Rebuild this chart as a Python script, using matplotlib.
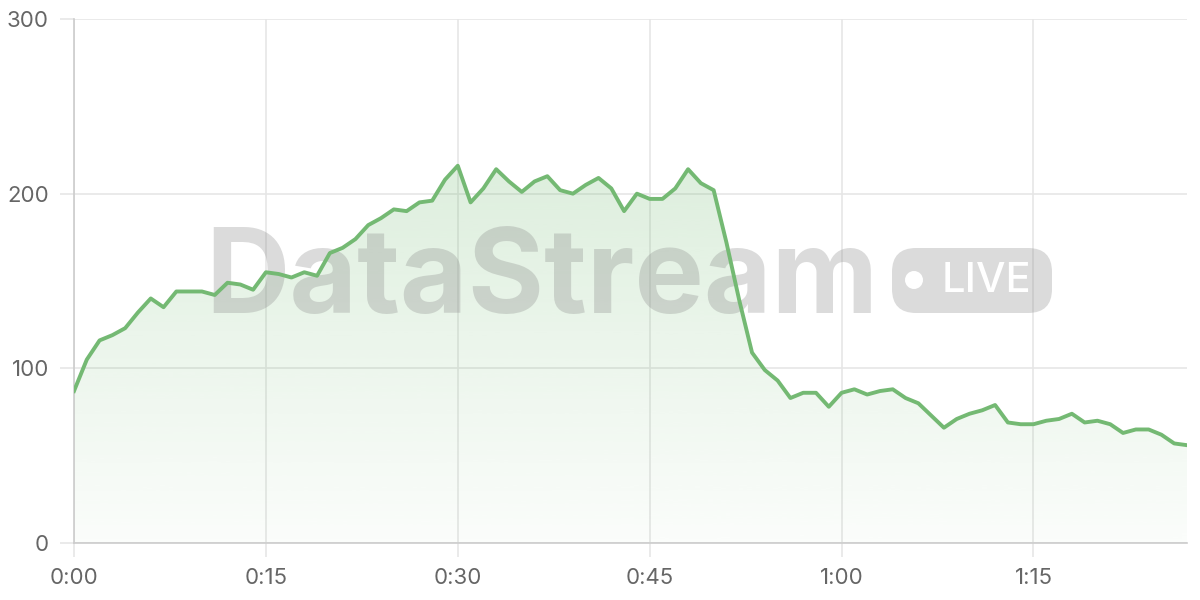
import numpy as np
import matplotlib
matplotlib.use("Agg")
import matplotlib.pyplot as plt
from matplotlib.patches import FancyBboxPatch, Circle

# one value per minute, 0:00 .. 1:27
minutes = list(range(88))
values = [87, 105, 116, 119, 123, 132, 140, 135, 144, 144,
          144, 142, 149, 148, 145, 155, 154, 152, 155, 153,
          166, 169, 174, 182, 186, 191, 190, 195, 196, 208,
          216, 195, 203, 214, 207, 201, 207, 210, 202, 200,
          205, 209, 203, 190, 200, 197, 197, 203, 214, 206,
          202, 172, 139, 109, 99, 93, 83, 86, 86, 78,
          86, 88, 85, 87, 88, 83, 80, 73, 66, 71,
          74, 76, 79, 69, 68, 68, 70, 71, 74, 69,
          70, 68, 63, 65, 65, 62, 57, 56]
xticks = [0, 15, 30, 45, 60, 75]
xlabels = ["0:00", "0:15", "0:30", "0:45", "1:00", "1:15"]
yticks = [0, 100, 200, 300]

plt.rcParams['font.family'] = ['Inter', 'DejaVu Sans']

fig = plt.figure(figsize=(12, 6), dpi=100)
ax = fig.add_axes([74/1200, 57/600, 1113/1200, 524/600])

x = np.array(minutes)
y = np.array(values)

# gradient fill under the line
poly = ax.fill_between(x, y, 0, color="none", lw=0)
grad = np.linspace(0.03, 0.24, 256).reshape(-1, 1)
cmap = matplotlib.colors.LinearSegmentedColormap.from_list(
    "g", [(0.45, 0.73, 0.45, 0.0), (0.45, 0.73, 0.45, 1.0)])
img = ax.imshow(grad, extent=[0, 87, 0, 216], origin="lower", aspect="auto",
                cmap=cmap, vmin=0, vmax=1, zorder=1)
img.set_clip_path(poly.get_paths()[0], transform=ax.transData)

# watermark
ax.text(0.42, (543 - 313) / 524, "DataStream", transform=ax.transAxes,
        ha="center", va="baseline",
        fontsize=84, fontweight="bold", color="#888888", alpha=0.3, zorder=2)
badge = FancyBboxPatch((892, 600 - 313), 160, 65, boxstyle="round,pad=0,rounding_size=24",
                       transform=None, fc="#888888", ec="none", alpha=0.3, zorder=2)
ax.add_artist(badge)
ax.add_artist(Circle((914, 600 - 280), 9, transform=None, fc="white", ec="none", zorder=3))
fig.text(986/1200, 1 - 281/600, "LIVE", ha="center", va="center", fontsize=30,
         fontweight="medium", color="white", zorder=3)

ax.plot(x, y, color="#74b973", lw=2.8, zorder=4, solid_joinstyle="round")

ax.set_xlim(0, 87)
ax.set_ylim(0, 300)
ax.set_xticks(xticks)
ax.set_xticklabels(xlabels)
ax.set_yticks(yticks)
ax.grid(True, color="#e6e6e6", lw=1.2, zorder=0)
ax.set_axisbelow(True)
ax.tick_params(axis="both", length=10, width=1.2, color="#e6e6e6",
               labelsize=16, labelcolor="#666666", pad=8)
for s in ["top", "right"]:
    ax.spines[s].set_visible(False)
ax.spines["left"].set_color("#cccccc")
ax.spines["bottom"].set_color("#cccccc")
ax.spines["left"].set_linewidth(1.2)
ax.spines["bottom"].set_linewidth(1.2)

fig.savefig("out.png", dpi=100)
